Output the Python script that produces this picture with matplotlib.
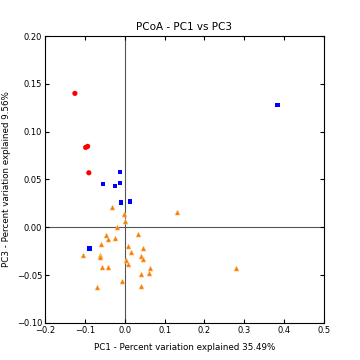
import numpy as np
import matplotlib
matplotlib.use('Agg')
import matplotlib.pyplot as plt

# group 1 (red circles)
red_x = [-0.125, -0.098, -0.093, -0.090]
red_y = [0.140, 0.0835, 0.0846, 0.057]

# group 2 (blue squares)
blue_x = [-0.0125, -0.055, -0.025, -0.0125, -0.010, 0.014, -0.088, 0.383]
blue_y = [0.058, 0.045, 0.043, 0.046, 0.026, 0.027, -0.022, 0.128]

# group 3 (orange triangles)
orange_x = [-0.033, -0.0025, 0.0, -0.019, 0.132, 0.034, -0.048, -0.041, -0.025,
            -0.060, 0.007, 0.045, 0.015, -0.104, -0.063, -0.0627, 0.042, 0.045,
            0.002, 0.007, -0.056, -0.041, 0.0627, 0.060, 0.040, 0.278, -0.0075,
            -0.070, 0.040]
orange_y = [0.0215, 0.014, 0.0066, 0.0003, 0.016, -0.0067, -0.0077, -0.012, -0.011,
            -0.017, -0.020, -0.022, -0.0255, -0.029, -0.029, -0.031, -0.0297, -0.033,
            -0.034, -0.038, -0.0415, -0.0415, -0.043, -0.048, -0.0485, -0.043, -0.056,
            -0.062, -0.061]

fig = plt.figure(figsize=(3.6, 3.6), dpi=100)
ax = fig.add_axes([0.125, 0.103, 0.775, 0.797])

ax.axhline(0, color='#555555', lw=0.8, zorder=1)
ax.axvline(0, color='#555555', lw=0.8, zorder=1)

ax.scatter(red_x, red_y, s=14, c='red', marker='o', edgecolors='none', zorder=3)
ax.scatter(blue_x, blue_y, s=10, c='blue', marker='s', edgecolors='none', zorder=3)
ax.scatter(orange_x, orange_y, s=14, c='#f57c00', marker='^', edgecolors='#ffd0a0',
           linewidths=0.4, zorder=3)

ax.set_xlim(-0.2, 0.5)
ax.set_ylim(-0.10, 0.20)
ax.set_xticks(np.arange(-0.2, 0.51, 0.1))
ax.set_yticks(np.arange(-0.10, 0.201, 0.05))
ax.set_xticklabels(['\u22120.2', '\u22120.1', '0.0', '0.1', '0.2', '0.3', '0.4', '0.5'])
ax.set_yticklabels(['\u22120.10', '\u22120.05', '0.00', '0.05', '0.10', '0.15', '0.20'])
ax.tick_params(direction='in', top=True, right=True, labelsize=6, length=3, pad=2)

ax.set_title('PCoA - PC1 vs PC3', fontsize=7.5, pad=4)
ax.set_xlabel('PC1 - Percent variation explained 35.49%', fontsize=6.3, labelpad=6)
ax.set_ylabel('PC3 - Percent variation explained 9.56%', fontsize=6.3, labelpad=4)

fig.savefig('out.png', dpi=100)
